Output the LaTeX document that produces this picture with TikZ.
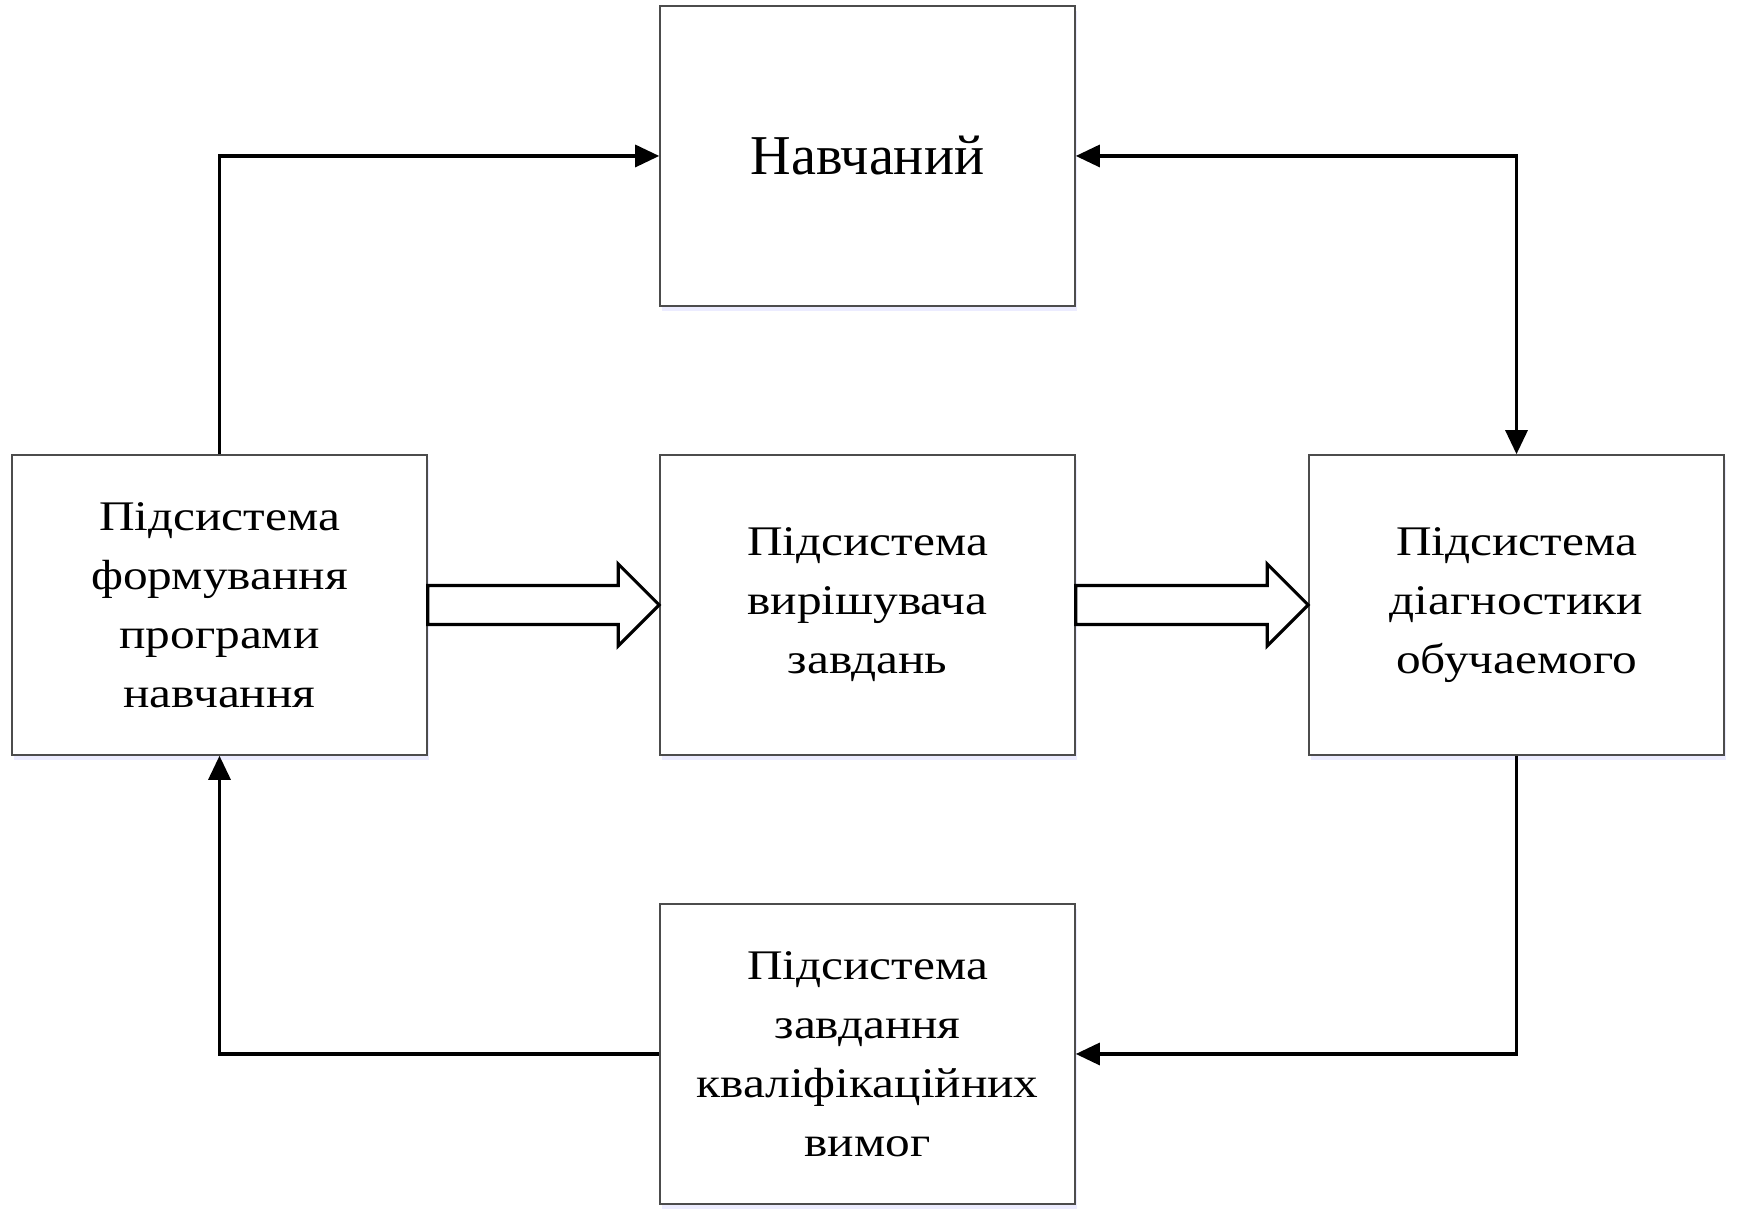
\documentclass[tikz,border=0pt]{standalone}
\usepackage{fontspec}
\newfontfamily\boxfont[FakeStretch=1.17]{Liberation Serif}
\newfontfamily\titlefont{Liberation Serif}
\usetikzlibrary{arrows.meta,calc,shadows}
\tikzstyle{block} = [rectangle, minimum width=4.15cm, minimum height=3cm, inner sep=0pt, align=center, draw=black!70, line width=0.45pt, fill=white, drop shadow={shadow xshift=0.02cm, shadow yshift=-0.05cm, fill=blue!30, opacity=0.25}, font=\boxfont\fontsize{12}{16.8}\selectfont]
\tikzstyle{arrow} = [line width=0.9pt, -{Triangle[length=2.4mm,width=2.2mm]}]
\tikzstyle{fatarrow} = [line width=0.9pt, fill=white, line join=miter]

\begin{document}
\begin{tikzpicture}
    \useasboundingbox (0,0) rectangle (17.38,12.25);
    \node [block, font=\titlefont\fontsize{16}{19}\selectfont] (learner) at (8.675,10.69) {Навчаний};
    \node [block] (prog) at (2.195,6.20) {Підсистема\\формування\\програми\\навчання};
    \node [block] (solver) at (8.675,6.20) {Підсистема\\вирішувача\\завдань};
    \node [block] (diag) at (15.165,6.20) {Підсистема\\діагностики\\обучаемого};
    \node [block] (req) at (8.675,1.71) {Підсистема\\завдання\\кваліфікаційних\\вимог};
    \draw [arrow] (prog.north) |- (learner.west);
    \draw [arrow, {Triangle[length=2.4mm,width=2.2mm]}-{Triangle[length=2.4mm,width=2.2mm]}] (learner.east) -| (diag.north);
    \draw [arrow] (diag.south) |- (req.east);
    \draw [arrow] (req.west) -| (prog.south);
    \draw [fatarrow] ($(prog.east)+(0,0.195)$) -- ($(solver.west)+(-0.41,0.195)$) -- ($(solver.west)+(-0.41,0.41)$) -- (solver.west) -- ($(solver.west)+(-0.41,-0.41)$) -- ($(solver.west)+(-0.41,-0.195)$) -- ($(prog.east)+(0,-0.195)$) -- cycle;
    \draw [fatarrow] ($(solver.east)+(0,0.195)$) -- ($(diag.west)+(-0.41,0.195)$) -- ($(diag.west)+(-0.41,0.41)$) -- (diag.west) -- ($(diag.west)+(-0.41,-0.41)$) -- ($(diag.west)+(-0.41,-0.195)$) -- ($(solver.east)+(0,-0.195)$) -- cycle;
\end{tikzpicture}
\end{document}
